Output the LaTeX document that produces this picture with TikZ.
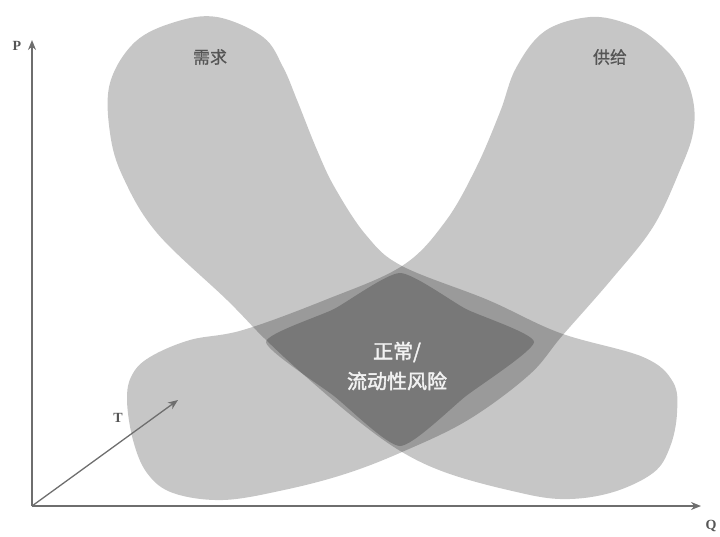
\documentclass[tikz,border=0pt]{standalone}
\usepackage{fontspec}
\newfontfamily\cjk[FakeBold=0.8]{Noto Sans CJK SC}
\newfontfamily\cjkbold[FakeBold=2]{Noto Sans CJK SC}
\newfontfamily\axisfont{Liberation Serif}
\usetikzlibrary{arrows.meta}
\definecolor{axisgray}{HTML}{6E6E6E}
\definecolor{labelgray}{HTML}{555555}
\definecolor{centertext}{HTML}{F2F2F2}
\tikzset{
  blob/.style={fill=black, fill opacity=0.225, draw=none},
  axisline/.style={draw=axisgray, line width=1.5pt, -{Stealth[length=10pt,width=8pt]}},
  tarrow/.style={draw=axisgray, line width=1.3pt, -{Stealth[length=10pt,width=8pt]}},
  curvelabel/.style={text=labelgray, font=\cjk\fontsize{17}{20}\selectfont},
  centerlabel/.style={text=centertext, font=\cjkbold\fontsize{20}{30}\selectfont, align=center},
  axislabel/.style={text=labelgray, font=\axisfont\bfseries\fontsize{14}{16}\selectfont}
}
\begin{document}
\begin{tikzpicture}[x=1pt, y=-1pt]
\useasboundingbox (0,0) rectangle (720,536);
% demand band
\fill[blob] plot[smooth cycle, tension=0.6] coordinates {
 (217,17) (263,37) (283,67) (297,100) (317,150) (335,188) (366,235) (402,266)
 (488,300) (560,333) (643,357) (673,382) (677,413) (670,447) (653,473) (610,493)
 (560,499) (508,490) (447,473) (402,452) (357,420) (304,375) (264,338) (227,300)
 (157,233) (123,177) (110,133) (110,83) (135,42) (175,22)};
% supply band
\fill[blob] plot[smooth cycle, tension=0.6] coordinates {
 (590,17) (628,24) (655,40) (680,67) (693,100) (693,133) (680,170) (653,227)
 (611,280) (562,336) (529,375) (468,420) (402,452) (345,474) (284,490) (223,500)
 (173,493) (147,473) (133,440) (127,400) (132,375) (150,357) (190,340) (243,330)
 (325,300) (402,266) (445,222) (476,168) (500,112) (516,68) (545,31)};
% inner core
\fill[blob] plot[smooth cycle, tension=0.35] coordinates {
 (400,273) (334,309) (266,342) (334,396) (400,446) (466,396) (534,342) (466,309)};
% axes
\coordinate (O) at (32,506);
\coordinate (Ptop) at (32,40);
\coordinate (Qend) at (701,506);
\coordinate (Tend) at (178,400);
\draw[axisline] (O) -- (Ptop);
\draw[axisline] (O) -- (Qend);
\draw[tarrow] (O) -- (Tend);
\node[axislabel] (P) at (17,46) {P};
\node[axislabel] (Q) at (711,526) {Q};
\node[axislabel] (T) at (118,418) {T};
% labels
\node[curvelabel] (demand) at (210,57) {需求};
\node[curvelabel] (supply) at (610,57) {供给};
\node[centerlabel] (core) at (397,366) {正常/\\流动性风险};
\end{tikzpicture}
\end{document}
